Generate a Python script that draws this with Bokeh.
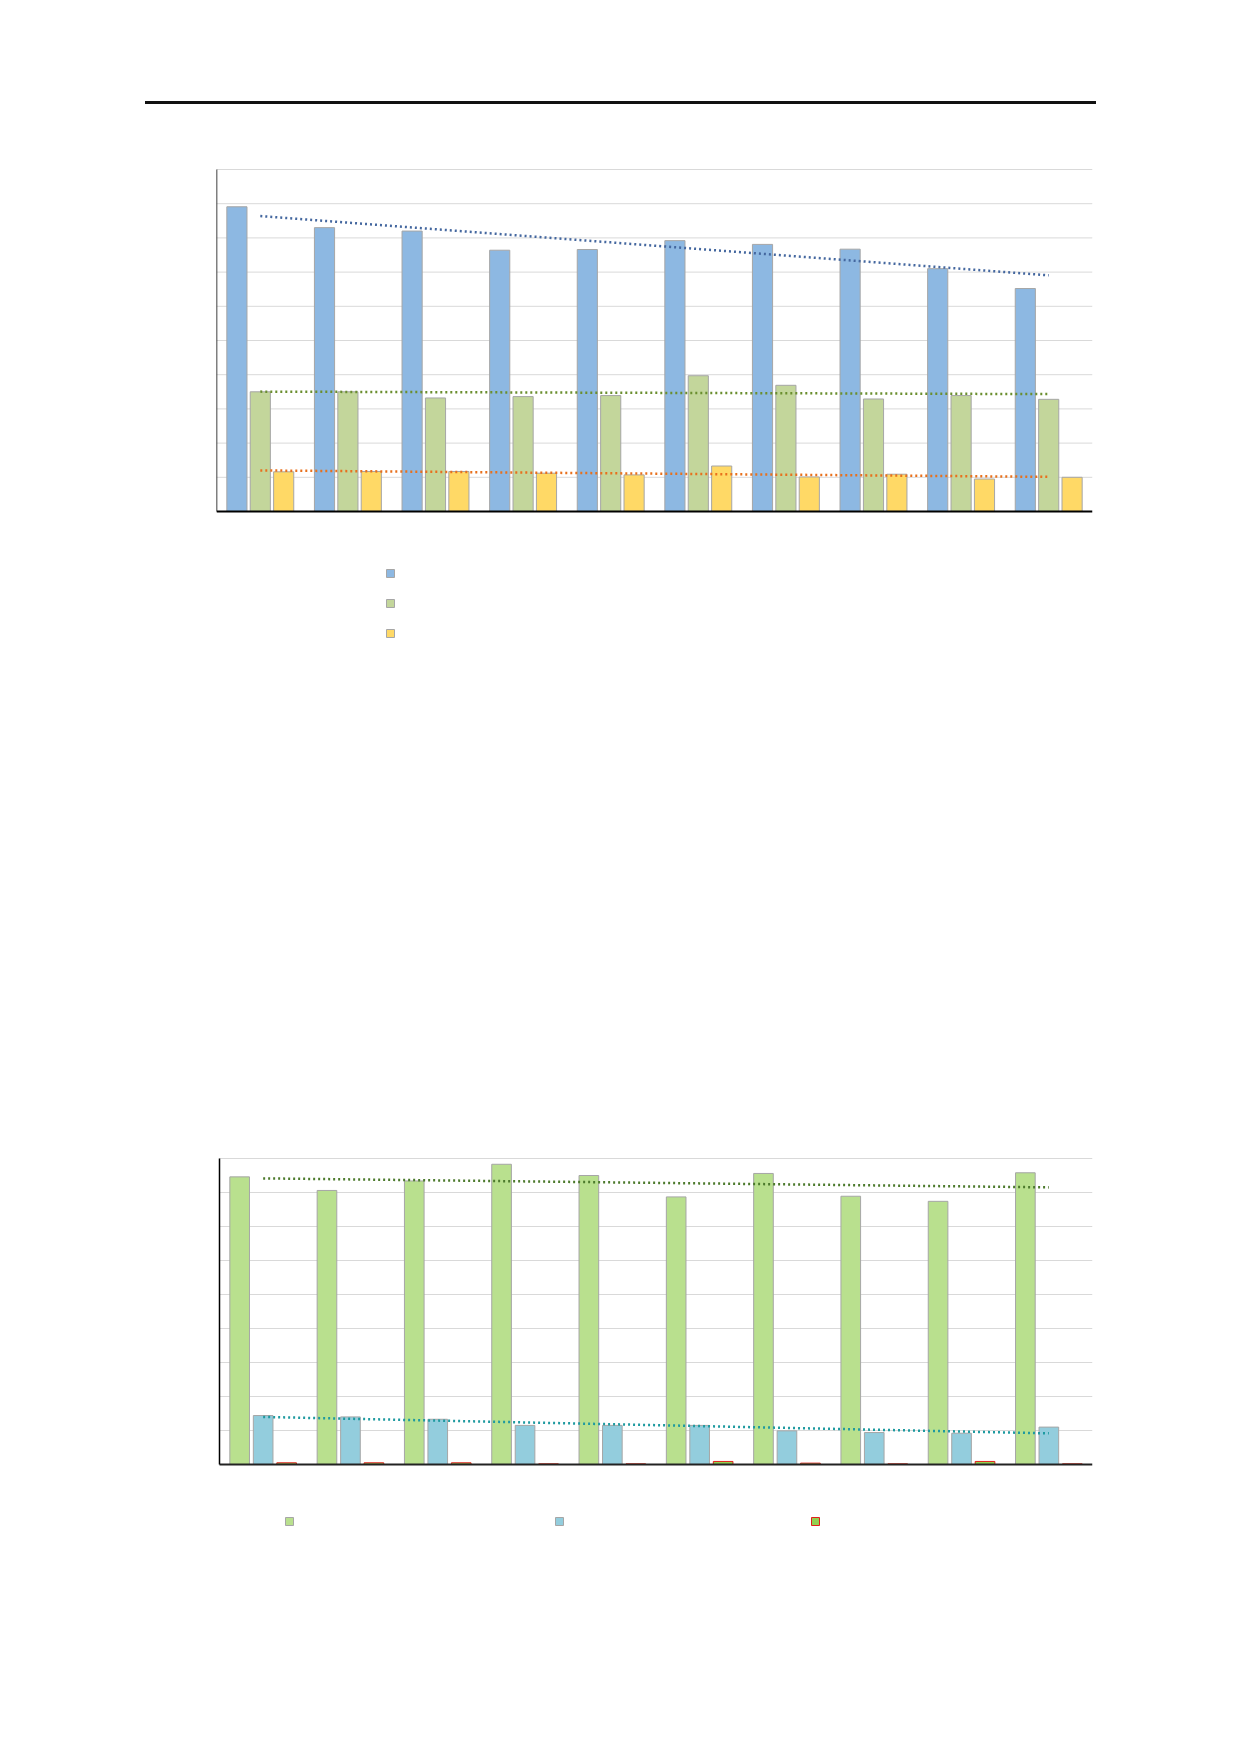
import numpy as np
from bokeh.plotting import figure
from bokeh.layouts import column
from bokeh.models import Range1d, FixedTicker, Legend, LegendItem, ColumnDataSource, Div
from bokeh.transform import dodge
from bokeh.core.properties import value
from bokeh.embed import file_html
from bokeh.resources import INLINE

# ---------------- data ----------------
categories = list(range(1, 11))

top_blue = [8.91, 8.30, 8.20, 7.64, 7.66, 7.92, 7.81, 7.67, 7.10, 6.52]
top_green = [3.50, 3.50, 3.32, 3.36, 3.39, 3.97, 3.69, 3.29, 3.39, 3.28]
top_yellow = [1.16, 1.17, 1.17, 1.12, 1.07, 1.33, 1.01, 1.09, 0.95, 1.00]

bot_green = [8.46, 8.06, 8.34, 8.83, 8.50, 7.87, 8.56, 7.89, 7.74, 8.58]
bot_blue = [1.44, 1.40, 1.33, 1.15, 1.15, 1.15, 0.99, 0.94, 0.92, 1.10]
bot_red = [0.05, 0.05, 0.05, 0.02, 0.02, 0.09, 0.04, 0.02, 0.09, 0.02]

top_grid = list(range(1, 11))
bot_grid = list(range(1, 10))


def trend(vals):
    x = np.array(categories, dtype=float)
    k, b = np.polyfit(x, np.array(vals, dtype=float), 1)
    return list(k * x + b)


OUTLINE = "#A6A6A6"
GRID = "#D9D9D9"
X_LO = categories[0] - 0.5
X_HI = categories[-1] + 0.5


def style_axes(p, ymax, ytick_loc):
    for ax in p.xaxis + p.yaxis:
        ax.ticker = FixedTicker(ticks=[])
        ax.major_tick_line_color = None
        ax.minor_tick_line_color = None
        ax.major_label_text_font_size = "0px"
        ax.axis_line_color = "black"
    p.xaxis.fixed_location = 0
    p.xaxis.bounds = (X_LO, X_HI)
    p.xaxis.axis_line_width = 2
    p.yaxis.fixed_location = ytick_loc
    p.yaxis.bounds = (0, ymax)
    p.yaxis.axis_line_width = 1.5
    p.grid.visible = False
    p.outline_line_color = None


def blank_legend(items, loc):
    return Legend(
        items=items, location=loc, orientation="vertical",
        glyph_width=10, glyph_height=10, label_height=10, label_width=0,
        label_standoff=0, spacing=20, padding=0, margin=0,
        border_line_color=None, background_fill_alpha=0,
        label_text_font_size="8px",
    )


# ---------------- rule above the charts ----------------
rule = Div(text="", width=951, height=3, margin=(101, 0, 0, 145),
           styles={"background-color": "#111111", "overflow": "hidden"})

# ---------------- top chart ----------------
PX_T = 34.2  # pixels per unit
src_t = ColumnDataSource(dict(x=categories, blue=top_blue, green=top_green, yellow=top_yellow))
t = figure(width=1100, height=551, min_border_left=216, min_border_right=8,
           min_border_top=64, min_border_bottom=10, title=None,
           x_range=Range1d(X_LO, X_HI),
           y_range=Range1d(-(645 - 511) / PX_T, (511 - 168) / PX_T),
           toolbar_location=None, output_backend="svg")
style_axes(t, 10, X_LO)
t.segment(x0=X_LO, x1=X_HI, y0=top_grid, y1=top_grid, line_color=GRID, line_width=1)
off = 0.267
w = 0.23
r1 = t.vbar(x=dodge("x", -off, range=t.x_range), top="blue", width=w, source=src_t,
            fill_color="#8DB8E2", line_color=OUTLINE, line_width=1)
r2 = t.vbar(x=dodge("x", 0, range=t.x_range), top="green", width=w, source=src_t,
            fill_color="#C3D69B", line_color=OUTLINE, line_width=1)
r3 = t.vbar(x=dodge("x", off, range=t.x_range), top="yellow", width=w, source=src_t,
            fill_color="#FFD966", line_color=OUTLINE, line_width=1)
t.line(categories, trend(top_blue), line_color="#44679F", line_width=2.5, line_dash="2 3")
t.line(categories, trend(top_green), line_color="#6A8E2E", line_width=2.5, line_dash="2 3")
t.line(categories, trend(top_yellow), line_color="#E8701C", line_width=2.5, line_dash="2 3")
t.add_layout(blank_legend([LegendItem(label=value(""), renderers=[r]) for r in (r1, r2, r3)],
                          (169, 7)))

# ---------------- bottom chart ----------------
PX_B = 34.0
PX_BX = 87.3
src_b = ColumnDataSource(dict(x=categories, green=bot_green, blue=bot_blue, red=bot_red))
b = figure(width=1100, height=887, min_border_left=216, min_border_right=8,
           min_border_top=502, min_border_bottom=10, title=None,
           x_range=Range1d(X_LO - 3 / PX_BX, X_HI),
           y_range=Range1d(-(1532 - 1464) / PX_B, (1464 - 1157) / PX_B),
           toolbar_location=None, output_backend="svg")
style_axes(b, 9, X_LO)
b.xaxis.axis_line_color = "#222222"
b.segment(x0=X_LO, x1=X_HI, y0=bot_grid, y1=bot_grid, line_color=GRID, line_width=1)
offb = 0.269
wb = 0.225
q1 = b.vbar(x=dodge("x", -offb, range=b.x_range), top="green", width=wb, source=src_b,
            fill_color="#B9E08E", line_color=OUTLINE, line_width=1)
q2 = b.vbar(x=dodge("x", 0, range=b.x_range), top="blue", width=wb, source=src_b,
            fill_color="#93CDDD", line_color=OUTLINE, line_width=1)
q3 = b.vbar(x=dodge("x", offb, range=b.x_range), top="red", width=wb, source=src_b,
            fill_color="#92D050", line_color="#E0201B", line_width=1)
b.line(categories, trend(bot_green), line_color="#4C7A2C", line_width=2.5, line_dash="2 3")
b.line(categories, trend(bot_blue), line_color="#1E9AA0", line_width=2.5, line_dash="2 3")
for rend, vx in ((q1, 68), (q2, 338), (q3, 594)):
    b.add_layout(blank_legend([LegendItem(label=value(""), renderers=[rend])], (vx, 6)))

layout = column(rule, t, b)
open("out.html", "w").write(file_html(layout, INLINE))
